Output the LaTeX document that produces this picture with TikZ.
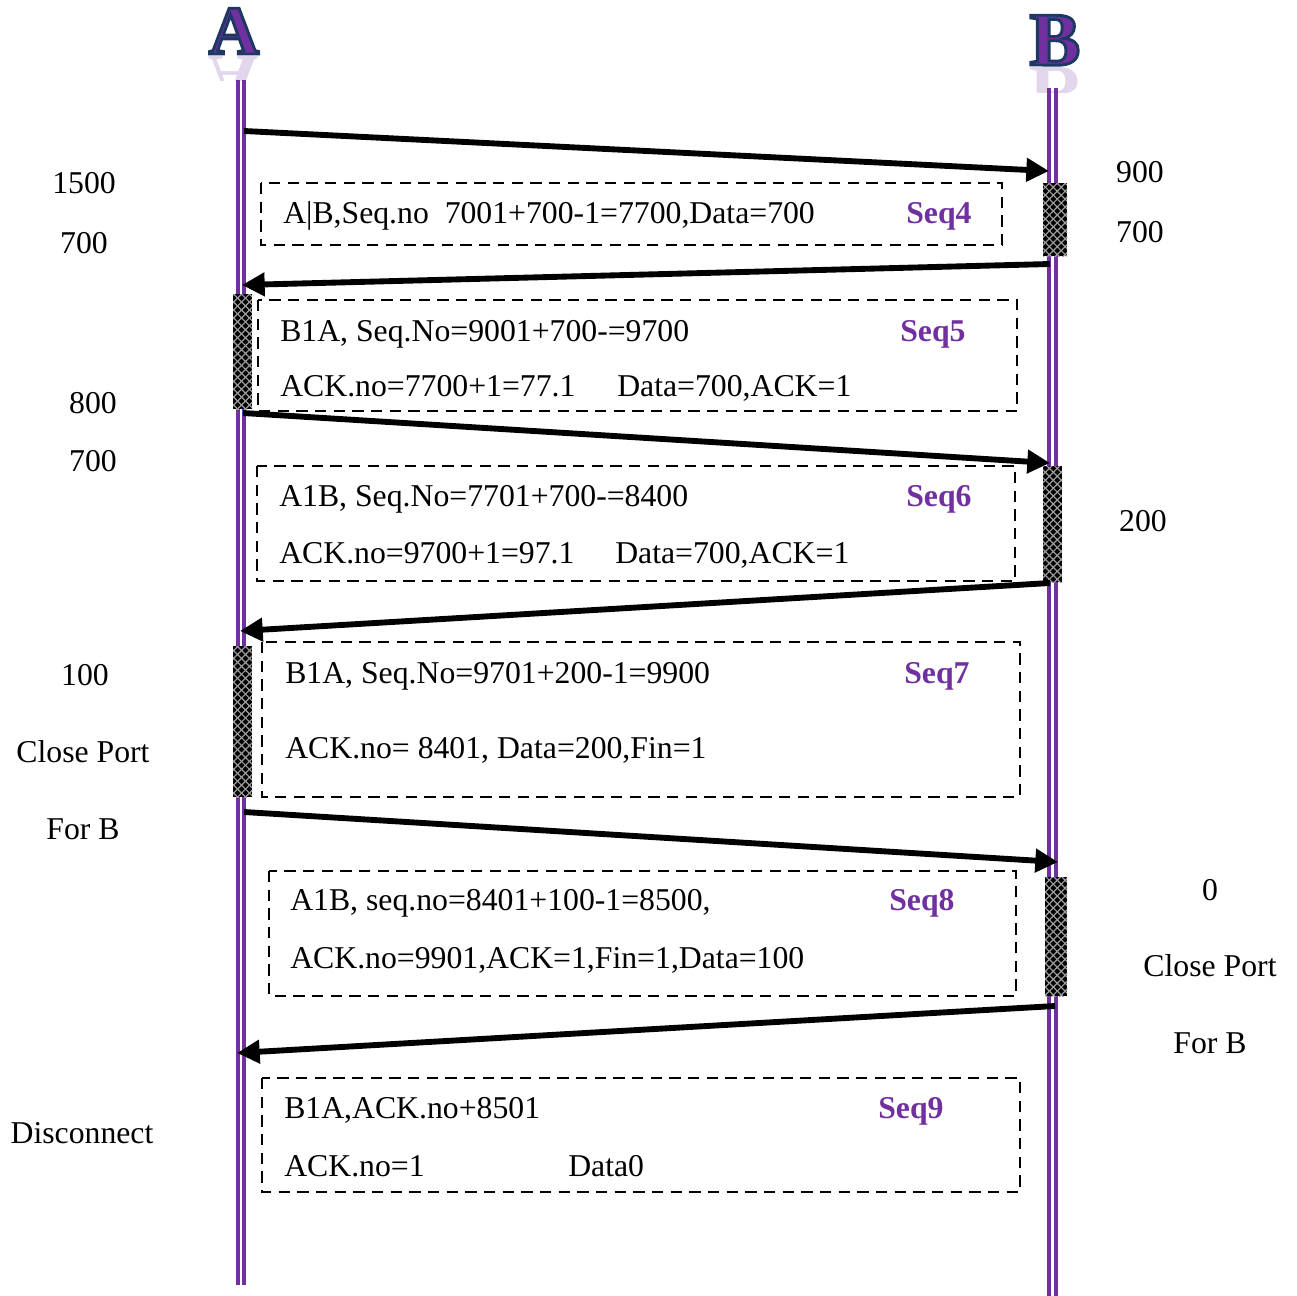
\documentclass[tikz,border=0pt]{standalone}
\usepackage{fontspec}
\setmainfont{Liberation Serif}
\usetikzlibrary{arrows.meta,patterns.meta}
\definecolor{lifepurple}{RGB}{112,48,160}
\definecolor{seqpurple}{RGB}{112,48,160}
\definecolor{letnavy}{RGB}{31,56,100}
\newcommand\outlinedletter[1]{\special{pdf:code q 2 Tr 2.2 w 0.12 0.22 0.39 RG}#1\special{pdf:code Q}}
\begin{document}
\begin{tikzpicture}[x=0.75pt,y=-0.75pt,
  txt/.style={font=\fontsize{23.8}{28}\selectfont, inner sep=0pt, anchor=base west},
  side/.style={font=\fontsize{23.8}{28}\selectfont, inner sep=0pt, anchor=base},
  seq/.style={font=\fontsize{23.8}{28}\selectfont\bfseries, text=seqpurple, inner sep=0pt, anchor=base west},
  msgbox/.style={draw, line width=1.6pt, dash pattern=on 8.5pt off 5.5pt},
  act/.style={preaction={fill=black},
    preaction={pattern={Lines[angle=45,distance=4.2pt,line width=0.9pt]}, pattern color=gray!75},
    pattern={Lines[angle=-45,distance=4.2pt,line width=0.9pt]}, pattern color=gray!75},
  msg/.style={line width=4.4pt, -{Triangle[length=17pt,width=17pt]}},
  life/.style={draw=lifepurple, line width=2.3pt},
  bigA/.style={font=\fontsize{52}{60}\selectfont\bfseries, inner sep=0pt, anchor=base},
  bigB/.style={font=\fontsize{57}{64}\selectfont\bfseries, inner sep=0pt, anchor=base},
]
\useasboundingbox (0,0) rectangle (1297,1296);

% ---- participant letters ----
\node[bigA, text=lifepurple] (A) at (234,54) {\outlinedletter{A}};
\begin{scope}
  \clip (195,56) rectangle (275,80);
  \node[bigA, text=lifepurple, opacity=0.2, yscale=-1, transform shape] (Ar) at (234,56) {A};
\end{scope}
\node[bigB, text=lifepurple] (B) at (1055,65) {\outlinedletter{B}};
\begin{scope}
  \clip (1015,67) rectangle (1095,92);
  \node[bigB, text=lifepurple, opacity=0.2, yscale=-1, transform shape] (Br) at (1055,67) {B};
\end{scope}

% ---- lifelines ----
\draw[life] (238,80) -- (238,1285);
\draw[life] (244,80) -- (244,1285);
\draw[life] (1049,88) -- (1049,1296);
\draw[life] (1056,88) -- (1056,1296);

% ---- activation bars ----
\path[act] (1043,183) rectangle (1067,256);
\path[act] (233,294) rectangle (252,409);
\path[act] (1043,466) rectangle (1062,582);
\path[act] (233,646) rectangle (252,797);
\path[act] (1045,877) rectangle (1067,996);

% ---- message boxes ----
\draw[msgbox] (261,183) rectangle (1002,245);
\draw[msgbox] (258,300) rectangle (1017,411);
\draw[msgbox] (257,466) rectangle (1015,581);
\draw[msgbox] (262,642) rectangle (1020,797);
\draw[msgbox] (269,871) rectangle (1016,996);
\draw[msgbox] (262,1078) rectangle (1020,1192);

% ---- arrow end points ----
\coordinate (a1) at (244,131);  \coordinate (b1) at (1049,171);
\coordinate (b2) at (1050,264); \coordinate (a2) at (242,285);
\coordinate (a3) at (243,413);  \coordinate (b3) at (1050,463);
\coordinate (b4) at (1050,583); \coordinate (a4) at (240,631);
\coordinate (a5) at (244,812);  \coordinate (b5) at (1058,862);
\coordinate (b6) at (1055,1006);\coordinate (a6) at (237,1053);

\draw[msg] (a1) -- (b1);
\draw[msg] (b2) -- (a2);
\draw[msg] (a3) -- (b3);
\draw[msg] (b4) -- (a4);
\draw[msg] (a5) -- (b5);
\draw[msg] (b6) -- (a6);

% ---- box texts ----
\node[txt] (t1) at (283,223) {A|B,Seq.no\ \ 7001+700-1=7700,Data=700};
\node[seq] (s4) at (906,223) {Seq4};

\node[txt] (t2a) at (280,341) {B1A, Seq.No=9001+700-=9700};
\node[seq] (s5) at (900,341) {Seq5};
\node[txt] (t2b) at (280,396) {ACK.no=7700+1=77.1};
\node[txt] (t2c) at (617,396) {Data=700,ACK=1};

\node[txt] (t3a) at (279,506) {A1B, Seq.No=7701+700-=8400};
\node[seq] (s6) at (906,506) {Seq6};
\node[txt] (t3b) at (279,563) {ACK.no=9700+1=97.1};
\node[txt] (t3c) at (615,563) {Data=700,ACK=1};

\node[txt] (t4a) at (285,683) {B1A, Seq.No=9701+200-1=9900};
\node[seq] (s7) at (904,683) {Seq7};
\node[txt] (t4b) at (285,758) {ACK.no= 8401, Data=200,Fin=1};

\node[txt] (t5a) at (290,910) {A1B, seq.no=8401+100-1=8500,};
\node[seq] (s8) at (889,910) {Seq8};
\node[txt] (t5b) at (290,968) {ACK.no=9901,ACK=1,Fin=1,Data=100};

\node[txt] (t6a) at (284,1118) {B1A,ACK.no+8501};
\node[seq] (s9) at (878,1118) {Seq9};
\node[txt] (t6b) at (284,1176) {ACK.no=1};
\node[txt] (t6c) at (568,1176) {Data0};

% ---- side labels ----
\node[side] (l1) at (84,193) {1500};
\node[side] (l2) at (84,253) {700};
\node[side] (l3) at (93,413) {800};
\node[side] (l4) at (93,471) {700};
\node[side] (l5) at (85,685) {100};
\node[side] (l6) at (83,762) {Close Port};
\node[side] (l7) at (83,839) {For B};
\node[side] (l8) at (82,1143) {Disconnect};

\node[side] (r1) at (1140,182) {900};
\node[side] (r2) at (1140,242) {700};
\node[side] (r3) at (1143,531) {200};
\node[side] (r4) at (1210,900) {0};
\node[side] (r5) at (1210,976) {Close Port};
\node[side] (r6) at (1210,1053) {For B};
\end{tikzpicture}
\end{document}
